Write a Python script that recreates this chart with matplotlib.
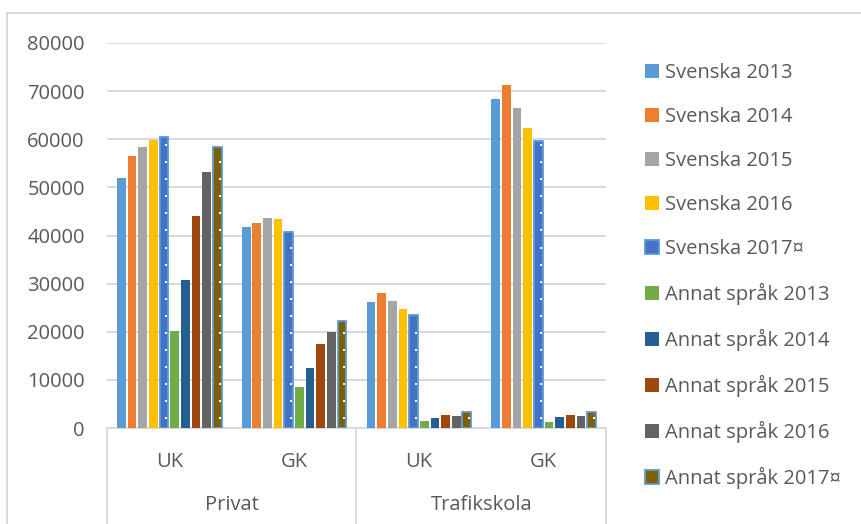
import numpy as np
import matplotlib.pyplot as plt
from matplotlib.patches import Patch
from matplotlib.lines import Line2D

plt.rcParams['font.family'] = ['Open Sans', 'DejaVu Sans']

# Kategorier (två nivåer)
grupper = ["Privat", "Trafikskola"]
underkategorier = ["UK", "GK", "UK", "GK"]

serier = ["Svenska 2013", "Svenska 2014", "Svenska 2015", "Svenska 2016", "Svenska 2017¤",
          "Annat språk 2013", "Annat språk 2014", "Annat språk 2015", "Annat språk 2016",
          "Annat språk 2017¤"]

# Värden per kategori: Privat UK, Privat GK, Trafikskola UK, Trafikskola GK
svenska_2013 = [51900, 41800, 26100, 68300]
svenska_2014 = [56600, 42700, 28100, 71200]
svenska_2015 = [58400, 43600, 26300, 66500]
svenska_2016 = [59800, 43500, 24700, 62300]
svenska_2017 = [60500, 40700, 23400, 59700]
annat_2013 = [20100, 8500, 1400, 1300]
annat_2014 = [30700, 12400, 2100, 2200]
annat_2015 = [44000, 17400, 2600, 2600]
annat_2016 = [53200, 20000, 2500, 2400]
annat_2017 = [58300, 22300, 3300, 3300]

varden = [svenska_2013, svenska_2014, svenska_2015, svenska_2016, svenska_2017,
          annat_2013, annat_2014, annat_2015, annat_2016, annat_2017]

farger = ['#5B9BD5', '#ED7D31', '#A5A5A5', '#FFC000', '#4472C4',
          '#70AD47', '#255E91', '#9E480E', '#636363', '#7F6000']
prickade = [4, 9]  # serier med prickmönster (2017¤)

textfarg = '#595959'
gridfarg = '#D9D9D9'

fig = plt.figure(figsize=(8.62, 5.24), dpi=100)
ax = fig.add_axes([107/862, 1 - 428/524, (606-107)/862, (428-43)/524])

x = np.arange(len(underkategorier))
n = len(serier)
slot = 0.855 / n
bredd = slot * 0.82

for i, (namn, v, f) in enumerate(zip(serier, varden, farger)):
    pos = x - 0.855/2 + slot*(i + 0.5)
    if i in prickade:
        ax.bar(pos, v, width=bredd, color=f, edgecolor='#5B9BD5', linewidth=1.3, zorder=3)
        # vita prickar längs stapeln
        for px, h in zip(pos, v):
            py = np.arange(2000, h - 800, 3550)
            ax.scatter(np.full(len(py), px + 0.018), py, s=2.5, marker='s',
                       color='white', linewidths=0, zorder=4)
    else:
        ax.bar(pos, v, width=bredd, color=f, linewidth=0, zorder=3)

ax.set_xlim(-0.5, len(underkategorier) - 0.5)
ax.set_ylim(0, 80000)
ax.set_yticks(np.arange(0, 80001, 10000))
ax.yaxis.grid(True, color=gridfarg, linewidth=1.4, zorder=0)
ax.set_axisbelow(True)
ax.tick_params(axis='y', length=0, pad=16, labelsize=14.5, labelcolor=textfarg)
ax.set_xticks([])
for s in ['top', 'right', 'left']:
    ax.spines[s].set_visible(False)
ax.spines['bottom'].set_color(gridfarg)
ax.spines['bottom'].set_linewidth(1.4)

# Kategorietiketter i två nivåer
for xi, lab in zip(x, underkategorier):
    ax.text(xi, -0.088, lab, transform=ax.get_xaxis_transform(), ha='center', va='center',
            fontsize=14.5, color=textfarg)
for gi, g in enumerate(grupper):
    ax.text(gi*2 + 0.5, -0.2, g, transform=ax.get_xaxis_transform(), ha='center', va='center',
            fontsize=14.5, color=textfarg)
for xv in [-0.5, 1.5, 3.5]:
    ax.plot([xv, xv], [0, -0.3], transform=ax.get_xaxis_transform(), color=gridfarg,
            linewidth=1.4, clip_on=False)

# Förklaring
handtag = []
for i, f in enumerate(farger):
    if i in prickade:
        handtag.append(Patch(facecolor=f, edgecolor='#5B9BD5', linewidth=1.3))
    else:
        handtag.append(Patch(facecolor=f, edgecolor='none'))
fig.legend(handtag, serier, loc='upper left', bbox_to_anchor=(645/862, 1 - 63/524),
           frameon=False, fontsize=14.5, labelcolor=textfarg, handlelength=0.7,
           handleheight=0.7, handletextpad=0.3, labelspacing=1.19, borderpad=0,
           borderaxespad=0)

# Diagramram
fig.add_artist(Line2D([7/862, 7/862], [0, 1 - 13/524], color=gridfarg, linewidth=1.4))
fig.add_artist(Line2D([7/862, 1], [1 - 13/524, 1 - 13/524], color=gridfarg, linewidth=1.4))

fig.savefig('out.png', dpi=100)
